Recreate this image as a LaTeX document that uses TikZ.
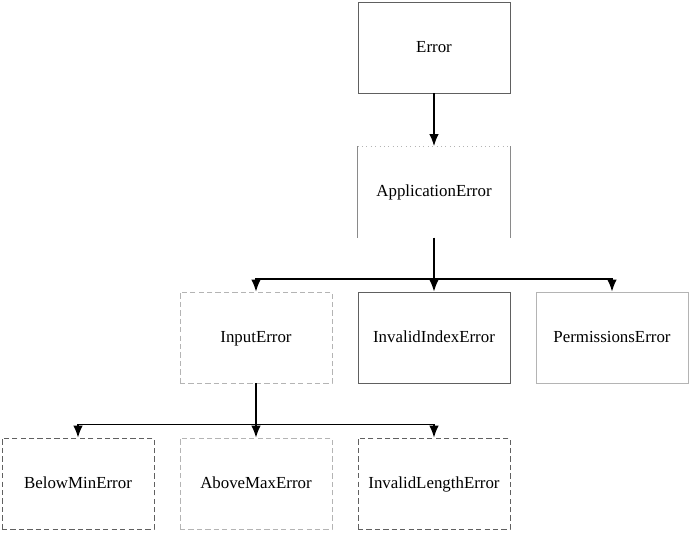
\documentclass[tikz,border=0pt]{standalone}
\usepackage{fontspec}
\setmainfont{Liberation Serif}
\usepackage{tikz}
\usetikzlibrary{arrows.meta}
\usetikzlibrary{positioning}
\usetikzlibrary{calc}
\definecolor{darkline}{HTML}{606060}
\definecolor{midline}{HTML}{8A8A8A}
\definecolor{lightline}{HTML}{B4B4B4}

\begin{document}
\begin{tikzpicture}[font=\fontsize{9.6}{11}\selectfont]
    \useasboundingbox (0,0) rectangle (13.8,10.8);

    \tikzset{errbox/.style={minimum width=3.04cm,minimum height=1.82cm,inner sep=0pt,line width=0.5pt,text height=1.6ex,text depth=0.4ex}}
    \tikzset{dashbox/.style={dash pattern=on 3pt off 1.8pt}}
    \tikzset{subarrow/.style={-{Latex[length=2.4mm,width=1.9mm]},line width=0.7pt,black}}

    % classes
    \node[errbox,draw=darkline] (err) at (8.68,9.85) {Error};
    \node[errbox] (app) at (8.68,6.96) {ApplicationError};
    \node[errbox,draw=lightline,dashbox] (inp) at (5.12,4.05) {InputError};
    \node[errbox,draw=darkline] (idx) at (8.68,4.05) {InvalidIndexError};
    \node[errbox,draw=lightline] (perm) at (12.24,4.05) {PermissionsError};
    \node[errbox,draw=darkline,dashbox] (below) at (1.56,1.13) {BelowMinError};
    \node[errbox,draw=lightline,dashbox] (above) at (5.12,1.13) {AboveMaxError};
    \node[errbox,draw=darkline,dashbox] (len) at (8.68,1.13) {InvalidLengthError};

    % open box round ApplicationError
    \draw[lightline,dotted,line width=0.5pt] (app.north west) -- (app.north east);
    \draw[midline,line width=0.5pt] (app.north west) -- (app.south west);
    \draw[midline,line width=0.5pt] (app.north east) -- (app.south east);

    % inheritance
    \draw[subarrow] (err) -- (app);
    \draw[subarrow] (app.south) -- ++(0,-0.82) -| (inp.north);
    \draw[subarrow] (app.south) -- (idx.north);
    \draw[subarrow] (app.south) -- ++(0,-0.82) -| (perm.north);
    \draw[subarrow] (inp.south) -- ++(0,-0.82) -| (below.north);
    \draw[subarrow] (inp.south) -- (above.north);
    \draw[subarrow] (inp.south) -- ++(0,-0.82) -| (len.north);

\end{tikzpicture}
\end{document}
